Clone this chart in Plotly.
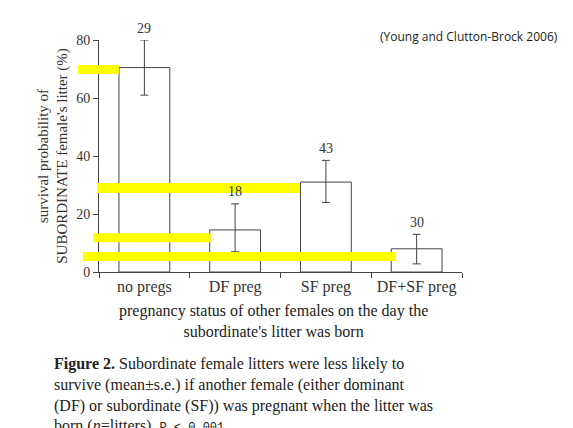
import plotly.graph_objects as go

categories = ['no pregs', 'DF preg', 'SF preg', 'DF+SF preg']
survival = [70.5, 14.5, 31, 8]
err_hi = [80, 23.5, 38.5, 13]
err_lo = [61, 7, 24, 2.8]
n_litters = [29, 18, 43, 30]

# yellow highlight bands: (x0, x1 in paper units, y0, y1 in data units)
bands = [(-0.058, 0.055, 68.3, 71.4),
         (-0.005, 0.551, 27.2, 30.7),
         (-0.016, 0.308, 10.3, 13.4),
         (-0.044, 0.818, 3.8, 6.9)]

serif = 'Liberation Serif, DejaVu Serif, serif'

fig = go.Figure()
fig.add_trace(go.Bar(
    x=categories, y=survival, width=0.56,
    marker=dict(color='white', line=dict(color='#444', width=1)),
    error_y=dict(type='data', symmetric=False,
                 array=[h - v for h, v in zip(err_hi, survival)],
                 arrayminus=[v - l for l, v in zip(err_lo, survival)],
                 color='#444', thickness=1, width=4),
))

for c, h, n in zip(categories, err_hi, n_litters):
    fig.add_annotation(x=c, y=h, text=str(n), showarrow=False, yshift=12,
                       font=dict(family=serif, size=14, color='#333'))

for x0, x1, y0, y1 in bands:
    fig.add_shape(type='rect', xref='paper', yref='y', x0=x0, x1=x1, y0=y0, y1=y1,
                  fillcolor='#ffff00', line_width=0, layer='above')

fig.add_annotation(xref='paper', yref='paper', x=1.27, y=1.06, xanchor='right',
                   text='(Young and Clutton-Brock 2006)', showarrow=False,
                   font=dict(family='Open Sans, sans-serif', size=12, color='#222'))

fig.add_annotation(xref='paper', yref='paper', x=0.48, y=-0.12, yanchor='top',
                   text='pregnancy status of other females on the day the<br>subordinate\'s litter was born',
                   showarrow=False, font=dict(family=serif, size=16, color='#222'))

caption = ('<b>Figure 2.</b> Subordinate female litters were less likely to<br>'
           'survive (mean\u00b1s.e.) if another female (either dominant<br>'
           '(DF) or subordinate (SF)) was pregnant when the litter was<br>'
           'born (<i>n</i>=litters). <span style="font-family:Liberation Mono, monospace;font-size:12px">P &lt; 0.001</span>')
fig.add_annotation(xref='paper', yref='paper', x=-0.13, y=-0.35, xanchor='left', yanchor='top',
                   align='left', text=caption, showarrow=False,
                   font=dict(family=serif, size=16, color='#222'))

fig.update_layout(
    width=573, height=428, margin=dict(l=91, r=119, t=32, b=164),
    plot_bgcolor='white', paper_bgcolor='white', showlegend=False,
    font=dict(family=serif, color='#333'),
    xaxis=dict(showline=True, linecolor='#444', ticks='outside', tickson='boundaries',
               ticklen=5, tickcolor='#444', tickfont=dict(size=16), automargin=False),
    yaxis=dict(range=[0, 80], showline=True, linecolor='#444', ticks='outside',
               ticklen=5, tickcolor='#444', tickvals=[0, 20, 40, 60, 80],
               showgrid=False, zeroline=False, tickfont=dict(size=14), automargin=False,
               title=dict(text="survival probability of<br>SUBORDINATE female's litter (%)",
                          font=dict(size=15), standoff=4)),
)

fig.write_html('out.html')
